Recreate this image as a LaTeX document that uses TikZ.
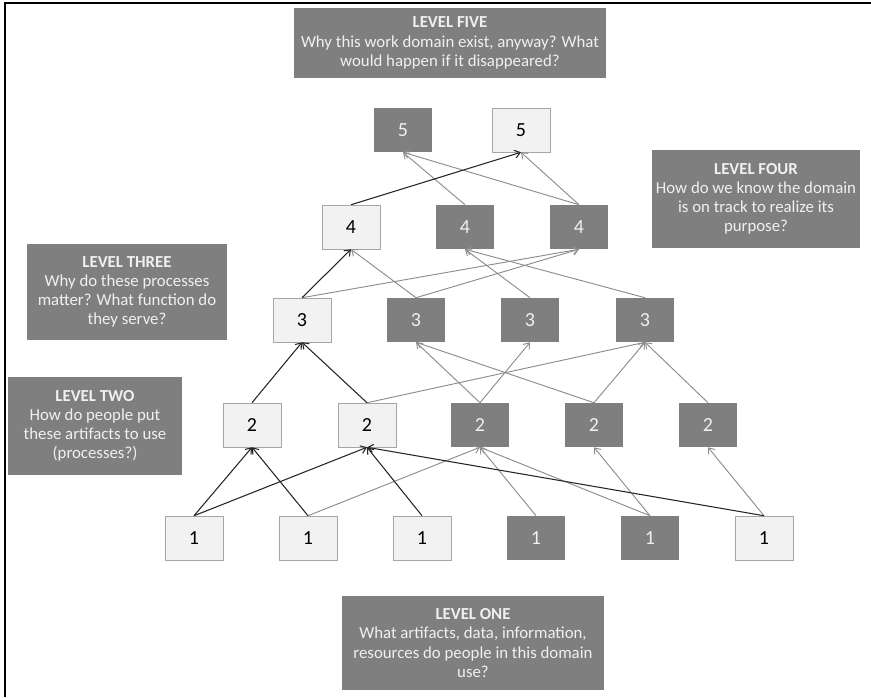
\documentclass[tikz,border=0pt]{standalone}
\usepackage{fontspec}
\setmainfont{Carlito}
\usetikzlibrary{arrows.meta}

\definecolor{boxdark}{RGB}{127,127,127}
\definecolor{boxlight}{RGB}{242,242,242}
\definecolor{linkgray}{RGB}{140,140,140}
\definecolor{textpale}{RGB}{240,240,240}

\begin{document}
\begin{tikzpicture}[x=0.75pt, y=-0.75pt,
  lightbox/.style={draw=black!35, fill=boxlight, minimum width=43.5pt, minimum height=33pt, inner sep=0pt, font=\fontsize{15}{17}\selectfont},
  darkbox/.style={fill=boxdark, text=textpale, minimum width=43.5pt, minimum height=33pt, inner sep=0pt, font=\fontsize{15}{17}\selectfont},
  levelbox/.style={fill=boxdark, text=textpale, align=center, inner sep=0pt, font=\fontsize{12.6}{14.4}\selectfont},
  mainlink/.style={-{Straight Barb[length=4pt,width=6pt]}, black!85, line width=0.8pt},
  sidelink/.style={-{Straight Barb[length=4pt,width=6pt]}, linkgray, line width=0.7pt}]

\useasboundingbox (0,0) rectangle (871,697);

% frame
\draw[line width=1.5pt] (5,697) -- (5,3) -- (871,3);

% level texts
\node[levelbox, minimum width=234pt, minimum height=53pt] (txtfive) at (450,43)
  {\textbf{LEVEL FIVE}\\Why this work domain exist, anyway? What\\would happen if it disappeared?};
\node[levelbox, minimum width=156pt, minimum height=73.5pt] (txtfour) at (756,199)
  {\textbf{LEVEL FOUR}\\How do we know the domain\\is on track to realize its\\purpose?};
\node[levelbox, minimum width=150pt, minimum height=72pt] (txtthree) at (127,292)
  {\textbf{LEVEL THREE}\\Why do these processes\\matter? What function do\\they serve?};
\node[levelbox, minimum width=131pt, minimum height=73.5pt] (txttwo) at (95,426)
  {\textbf{LEVEL TWO}\\How do people put\\these artifacts to use\\(processes?)};
\node[levelbox, minimum width=196pt, minimum height=70pt] (txtone) at (473,643)
  {\textbf{LEVEL ONE}\\What artifacts, data, information,\\resources do people in this domain\\use?};

% level five
\node[darkbox] (fiveA) at (403,130) {5};
\node[lightbox] (fiveB) at (521,130) {5};

% level four
\node[lightbox] (fourA) at (351,227) {4};
\node[darkbox] (fourB) at (465,227) {4};
\node[darkbox] (fourC) at (579,227) {4};

% level three
\node[lightbox] (threeA) at (302,320) {3};
\node[darkbox] (threeB) at (416,320) {3};
\node[darkbox] (threeC) at (530,320) {3};
\node[darkbox] (threeD) at (645,320) {3};

% level two
\node[lightbox] (twoA) at (252,425) {2};
\node[lightbox] (twoB) at (367,425) {2};
\node[darkbox] (twoC) at (480,425) {2};
\node[darkbox] (twoD) at (594,425) {2};
\node[darkbox] (twoE) at (708,425) {2};

% level one
\node[lightbox] (oneA) at (194,538) {1};
\node[lightbox] (oneB) at (308,538) {1};
\node[lightbox] (oneC) at (422,538) {1};
\node[darkbox] (oneD) at (536,538) {1};
\node[darkbox] (oneE) at (650,538) {1};
\node[lightbox] (oneF) at (764,538) {1};

% links one -> two
\draw[sidelink] (oneB.north) -- (twoC.south);
\draw[sidelink] (oneD.north) -- (twoC.south);
\draw[sidelink] (oneE.north) -- (twoC.south);
\draw[sidelink] (oneE.north) -- (twoD.south);
\draw[sidelink] (oneF.north) -- (twoE.south);
\draw[mainlink] (oneA.north) -- (twoA.south);
\draw[mainlink] (oneA.north) -- (twoB.south);
\draw[mainlink] (oneB.north) -- (twoA.south);
\draw[mainlink] (oneC.north) -- (twoB.south);
\draw[mainlink] (oneF.north) -- (twoB.south);

% links two -> three
\draw[sidelink] (twoB.north) -- (threeD.south);
\draw[sidelink] (twoC.north) -- (threeB.south);
\draw[sidelink] (twoC.north) -- (threeC.south);
\draw[sidelink] (twoD.north) -- (threeB.south);
\draw[sidelink] (twoD.north) -- (threeD.south);
\draw[sidelink] (twoE.north) -- (threeD.south);
\draw[mainlink] (twoA.north) -- (threeA.south);
\draw[mainlink] (twoB.north) -- (threeA.south);

% links three -> four
\draw[sidelink] (threeA.north) -- (fourC.south);
\draw[sidelink] (threeB.north) -- (fourA.south);
\draw[sidelink] (threeB.north) -- (fourC.south);
\draw[sidelink] (threeC.north) -- (fourB.south);
\draw[sidelink] (threeD.north) -- (fourB.south);
\draw[mainlink] (threeA.north) -- (fourA.south);

% links four -> five
\draw[sidelink] (fourB.north) -- (fiveA.south);
\draw[sidelink] (fourC.north) -- (fiveA.south);
\draw[sidelink] (fourC.north) -- (fiveB.south);
\draw[mainlink] (fourA.north) -- (fiveB.south);

\end{tikzpicture}
\end{document}
